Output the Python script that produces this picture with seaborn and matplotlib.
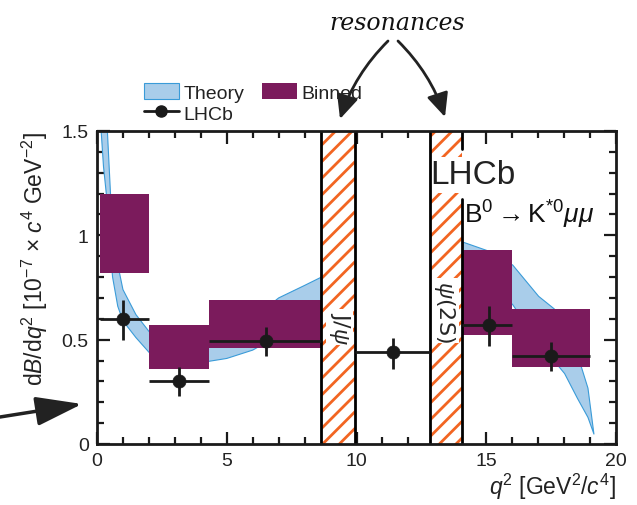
import numpy as np
import pandas as pd
import matplotlib
matplotlib.use("Agg")
import matplotlib.pyplot as plt
import matplotlib.lines as mlines
from matplotlib.ticker import MultipleLocator, FixedLocator, FixedFormatter
import seaborn as sns

# ---------------- data ----------------
# LHCb measurements
lhcb_q2 = [1.0, 3.15, 6.5, 11.4, 15.1, 17.5]
lhcb_bin_lo = [0.1, 2.0, 4.3, 9.95, 14.08, 16.0]
lhcb_bin_hi = [2.0, 4.3, 8.65, 12.84, 16.0, 19.0]
lhcb_val = [0.60, 0.30, 0.495, 0.44, 0.57, 0.42]
lhcb_err_up = [0.09, 0.07, 0.065, 0.07, 0.09, 0.07]
lhcb_err_dn = [0.10, 0.07, 0.075, 0.08, 0.10, 0.07]

# Binned theory boxes
binned_lo = [0.1, 2.0, 4.3, 14.08, 16.0]
binned_hi = [2.0, 4.3, 8.65, 16.0, 19.0]
binned_bottom = [0.82, 0.36, 0.46, 0.52, 0.37]
binned_top = [1.20, 0.57, 0.69, 0.93, 0.645]

# Theory band (low q2 region)
th1_q2 = [0.1, 0.16, 0.25, 0.4, 0.5, 0.6, 0.8, 1.0, 1.5, 2.0, 2.5, 3.0, 4.0, 5.0, 6.0, 7.0, 8.0, 8.65]
th1_min = [2.3, 1.50, 1.33, 1.15, 0.95, 0.80, 0.66, 0.59, 0.51, 0.44, 0.39, 0.37, 0.39, 0.41, 0.45, 0.52, 0.60, 0.67]
th1_max = [3.0, 2.20, 1.85, 1.50, 1.25, 1.00, 0.86, 0.74, 0.62, 0.54, 0.48, 0.45, 0.46, 0.51, 0.60, 0.70, 0.76, 0.80]

# Theory band (high q2 region)
th2_q2 = [14.08, 15.0, 16.0, 17.0, 17.6, 18.0, 18.5, 18.9, 19.13]
th2_min = [0.86, 0.80, 0.67, 0.49, 0.40, 0.34, 0.22, 0.13, 0.05]
th2_max = [0.97, 0.93, 0.86, 0.71, 0.65, 0.56, 0.43, 0.27, 0.05]

# vetoed resonance regions
veto_lo = [8.65, 12.84]
veto_hi = [9.95, 14.08]
veto_names = [r"J/$\psi$", r"$\psi$(2S)"]

xtick_vals = [0, 5, 10, 15, 20]
xtick_labels = ["0", "5", "10", "15", "20"]
ytick_vals = [0, 0.5, 1.0, 1.5]
ytick_labels = ["0", "0.5", "1", "1.5"]

# ---------------- style ----------------
sns.set_theme(style="ticks")
plt.rcParams["font.family"] = ["Liberation Sans", "DejaVu Sans"]
plt.rcParams["mathtext.fontset"] = "custom"
plt.rcParams["mathtext.rm"] = "Liberation Sans"
plt.rcParams["mathtext.it"] = "Liberation Sans:italic"
plt.rcParams["mathtext.bf"] = "Liberation Sans:bold"
plt.rcParams["hatch.linewidth"] = 2.0

TH_FACE = "#a9cdea"
TH_EDGE = "#3a9bd8"
BIN_COL = "#7b1b5c"
HATCH_COL = "#f26522"

fig = plt.figure(figsize=(6.37, 5.06), dpi=100)
ax = fig.add_axes([97 / 637, 61 / 506, 519 / 637, 313 / 506])
ax.set_facecolor("white")

# theory band
th_poly = ax.fill_between(th1_q2, th1_min, th1_max, facecolor=TH_FACE, edgecolor=TH_EDGE, lw=0.8, zorder=1)
ax.fill_between(th2_q2, th2_min, th2_max, facecolor=TH_FACE, edgecolor=TH_EDGE, lw=0.8, zorder=1)

# binned boxes
b_w = np.array(binned_hi) - np.array(binned_lo)
b_h = np.array(binned_top) - np.array(binned_bottom)
bars = ax.bar(binned_lo, b_h, width=b_w, bottom=binned_bottom, align="edge",
              color=BIN_COL, edgecolor=BIN_COL, lw=0, zorder=2)

# vetoed resonance regions
for lo, hi in zip(veto_lo, veto_hi):
    ax.axvspan(lo, hi, facecolor="white", edgecolor=HATCH_COL, hatch="//", lw=0, zorder=3)
ax.axvline(veto_lo[0], color="black", lw=2, zorder=6)
ax.axvline(veto_hi[0], color="black", lw=2, zorder=6)
ax.axvline(veto_lo[1], color="black", lw=2, zorder=6)
ax.axvline(veto_hi[1], ymin=0, ymax=(445 - 200) / 313, color="black", lw=2, zorder=6)
ax.axvline(veto_hi[1], ymin=(445 - 150) / 313, ymax=1, color="black", lw=2, zorder=6)

# resonance labels (rotated, handwritten-like)
ax.text((veto_lo[0] + veto_hi[0]) / 2 + 0.05, 0.56, veto_names[0], rotation=-90, ha="center", va="center",
        fontsize=16, family=["DejaVu Sans"], zorder=5,
        bbox=dict(facecolor="white", edgecolor="none", pad=1))
ax.text((veto_lo[1] + veto_hi[1]) / 2 - 0.05, 0.64, veto_names[1], rotation=-90, ha="center", va="center",
        fontsize=16, family=["DejaVu Sans"], zorder=5,
        bbox=dict(facecolor="white", edgecolor="none", pad=1))

# LHCb data
xerr = [np.array(lhcb_q2) - np.array(lhcb_bin_lo), np.array(lhcb_bin_hi) - np.array(lhcb_q2)]
yerr = [lhcb_err_dn, lhcb_err_up]
ax.errorbar(lhcb_q2, lhcb_val, xerr=xerr, yerr=yerr, fmt="none", ecolor="#1a1a1a",
            elinewidth=2, capsize=0, zorder=7)
df = pd.DataFrame({"q2": lhcb_q2, "val": lhcb_val})
sns.scatterplot(data=df, x="q2", y="val", ax=ax, color="#1a1a1a", s=90, edgecolor="#1a1a1a",
                linewidth=0.5, zorder=8, legend=False)

# axes
ax.set_xlim(0, 20)
ax.set_ylim(0, 1.5)
ax.xaxis.set_major_locator(FixedLocator(xtick_vals))
ax.xaxis.set_major_formatter(FixedFormatter(xtick_labels))
ax.yaxis.set_major_locator(FixedLocator(ytick_vals))
ax.yaxis.set_major_formatter(FixedFormatter(ytick_labels))
ax.xaxis.set_minor_locator(MultipleLocator(1))
ax.yaxis.set_minor_locator(MultipleLocator(0.1))
ax.tick_params(which="both", direction="in", top=True, right=True, width=1.6, colors="#1a1a1a",
               labelsize=14, labelcolor="#222222")
ax.tick_params(which="major", length=9, pad=6)
ax.tick_params(which="minor", length=5)
for s in ax.spines.values():
    s.set_linewidth(2)
    s.set_color("#1a1a1a")
    s.set_zorder(10)

ax.set_xlabel(r"$q^2$ [GeV$^2$/$c^4$]", loc="right", fontsize=16.5, color="#222222", labelpad=1)
ax.set_ylabel(r"d$B$/d$q^2$ [10$^{-7}$ $\times$ $c^4$ GeV$^{-2}$]", loc="top", fontsize=16.5,
              color="#222222", labelpad=8)

# legend
lhcb_handle = mlines.Line2D([], [], color="#1a1a1a", marker="o", lw=2, ms=8)
leg = ax.legend([th_poly, lhcb_handle, bars], ["Theory", "LHCb", "Binned"], ncol=2,
                loc="upper left", bbox_to_anchor=(0.075, 1.178), frameon=False, fontsize=14,
                handlelength=1.8, handleheight=0.9, handletextpad=0.25, columnspacing=0.9,
                labelspacing=0.1, borderaxespad=0)
for t in leg.get_texts():
    t.set_color("#222222")

# LHCb label
ax.text(veto_lo[1], 1.25, "LHCb", fontsize=24, ha="left", va="baseline", color="#222222", zorder=5,
        bbox=dict(facecolor="white", edgecolor="none", pad=2))

# decay label (handwritten annotation)
ax.text(14.15, 1.06, r"B$^0$$\rightarrow$K$^{*0}$$\mu\mu$", fontsize=19, ha="left", va="baseline",
        color="#111111", zorder=5)

# "resonances" annotation with arrows
fig.text(397 / 637, 1 - 24 / 506, "resonances", fontsize=17, ha="center", va="center",
         family=["DejaVu Serif"], style="italic", color="#111111")
arrow_kw = dict(arrowstyle="-|>,head_length=1.2,head_width=0.55", color="#222222", lw=2,
                mutation_scale=12, shrinkA=0, shrinkB=0)
ax.annotate("", xy=(340, 506 - 120), xycoords="figure pixels", xytext=(388, 506 - 42),
            textcoords="figure pixels", annotation_clip=False,
            arrowprops=dict(connectionstyle="arc3,rad=0.12", **arrow_kw))
ax.annotate("", xy=(445, 506 - 118), xycoords="figure pixels", xytext=(398, 506 - 42),
            textcoords="figure pixels", annotation_clip=False,
            arrowprops=dict(connectionstyle="arc3,rad=-0.12", **arrow_kw))

# left pointing arrow
ax.annotate("", xy=(82, 506 - 405), xycoords="figure pixels", xytext=(0, 506 - 418),
            textcoords="figure pixels", annotation_clip=False,
            arrowprops=dict(arrowstyle="-|>,head_length=1.9,head_width=0.6", color="#222222", lw=2.5,
                            mutation_scale=15, shrinkA=0, shrinkB=0))

fig.savefig("out.png", dpi=100)
